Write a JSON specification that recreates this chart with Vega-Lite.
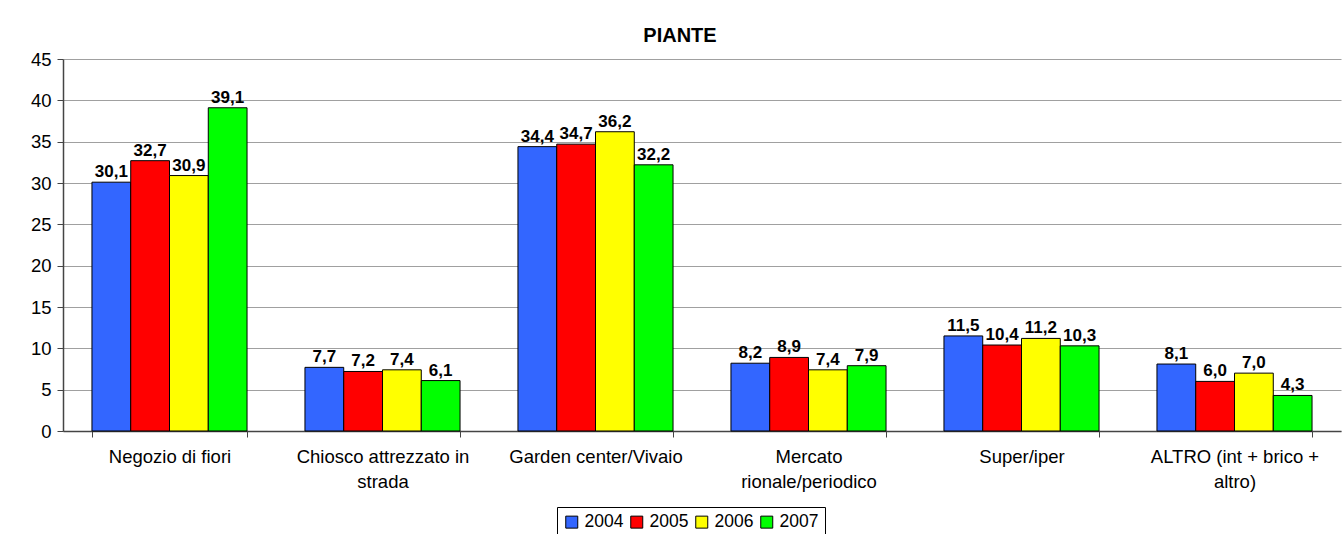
{
  "$schema": "https://vega.github.io/schema/vega-lite/v6.json",
  "autosize": {"type": "none"},
  "width": 1278,
  "height": 372,
  "padding": {"left": 63, "top": 59, "right": 1, "bottom": 103},
  "background": "white",
  "title": {
    "text": "PIANTE",
    "font": "Liberation Sans",
    "fontSize": 20,
    "fontWeight": "bold",
    "color": "black",
    "anchor": "middle",
    "dx": -22,
    "offset": 4
  },
  "data": {
    "values": [
      {"canale": "Negozio di fiori", "anno": "2004", "valore": 30.1},
      {"canale": "Negozio di fiori", "anno": "2005", "valore": 32.7},
      {"canale": "Negozio di fiori", "anno": "2006", "valore": 30.9},
      {"canale": "Negozio di fiori", "anno": "2007", "valore": 39.1},
      {"canale": "Chiosco attrezzato in strada", "anno": "2004", "valore": 7.7},
      {"canale": "Chiosco attrezzato in strada", "anno": "2005", "valore": 7.2},
      {"canale": "Chiosco attrezzato in strada", "anno": "2006", "valore": 7.4},
      {"canale": "Chiosco attrezzato in strada", "anno": "2007", "valore": 6.1},
      {"canale": "Garden center/Vivaio", "anno": "2004", "valore": 34.4},
      {"canale": "Garden center/Vivaio", "anno": "2005", "valore": 34.7},
      {"canale": "Garden center/Vivaio", "anno": "2006", "valore": 36.2},
      {"canale": "Garden center/Vivaio", "anno": "2007", "valore": 32.2},
      {"canale": "Mercato rionale/periodico", "anno": "2004", "valore": 8.2},
      {"canale": "Mercato rionale/periodico", "anno": "2005", "valore": 8.9},
      {"canale": "Mercato rionale/periodico", "anno": "2006", "valore": 7.4},
      {"canale": "Mercato rionale/periodico", "anno": "2007", "valore": 7.9},
      {"canale": "Super/iper", "anno": "2004", "valore": 11.5},
      {"canale": "Super/iper", "anno": "2005", "valore": 10.4},
      {"canale": "Super/iper", "anno": "2006", "valore": 11.2},
      {"canale": "Super/iper", "anno": "2007", "valore": 10.3},
      {"canale": "ALTRO (int + brico + altro)", "anno": "2004", "valore": 8.1},
      {"canale": "ALTRO (int + brico + altro)", "anno": "2005", "valore": 6.0},
      {"canale": "ALTRO (int + brico + altro)", "anno": "2006", "valore": 7.0},
      {"canale": "ALTRO (int + brico + altro)", "anno": "2007", "valore": 4.3}
    ]
  },
  "encoding": {
    "x": {
      "field": "canale",
      "type": "nominal",
      "sort": null,
      "scale": {"paddingInner": 0.272, "paddingOuter": 0.136},
      "axis": {
        "title": null,
        "labelAngle": 0,
        "labelFont": "Liberation Sans",
        "labelFontSize": 18.5,
        "labelColor": "black",
        "labelPadding": 10,
        "labelLineHeight": 25,
        "labelExpr": "datum.label == 'Chiosco attrezzato in strada' ? ['Chiosco attrezzato in', 'strada'] : datum.label == 'Mercato rionale/periodico' ? ['Mercato', 'rionale/periodico'] : datum.label == 'ALTRO (int + brico + altro)' ? ['ALTRO (int + brico +', 'altro)'] : datum.label",
        "tickBand": "extent",
        "tickSize": 6,
        "tickColor": "#444444",
        "domainColor": "#444444",
        "domainWidth": 1.5,
        "grid": false
      }
    },
    "xOffset": {"field": "anno", "type": "nominal"},
    "y": {
      "field": "valore",
      "type": "quantitative",
      "scale": {"domain": [0, 45], "nice": false},
      "axis": {
        "title": null,
        "values": [0, 5, 10, 15, 20, 25, 30, 35, 40, 45],
        "labelFont": "Liberation Sans",
        "labelFontSize": 18.5,
        "labelColor": "black",
        "labelPadding": 6,
        "tickSize": 6,
        "tickColor": "#444444",
        "domainColor": "#444444",
        "domainWidth": 1.5,
        "grid": true,
        "gridColor": "#a0a0a0",
        "gridWidth": 1
      }
    }
  },
  "layer": [
    {
      "mark": {"type": "bar", "stroke": "black", "strokeWidth": 1},
      "encoding": {
        "color": {
          "field": "anno",
          "type": "nominal",
          "scale": {
            "domain": ["2004", "2005", "2006", "2007"],
            "range": ["#3366FF", "#FF0000", "#FFFF00", "#00FF00"]
          },
          "legend": {
            "title": null,
            "orient": "none",
            "legendX": 494,
            "legendY": 448,
            "direction": "horizontal",
            "symbolType": "square",
            "symbolSize": 144,
            "symbolStrokeColor": "black",
            "symbolStrokeWidth": 1,
            "labelFont": "Liberation Sans",
            "labelFontSize": 17.5,
            "labelColor": "black",
            "labelOffset": 4,
            "columnPadding": 4,
            "symbolOffset": 0,
            "strokeColor": "black",
            "padding": 6
          }
        }
      }
    },
    {
      "mark": {
        "type": "text",
        "baseline": "alphabetic",
        "dy": -5,
        "font": "Liberation Sans",
        "fontSize": 17,
        "fontWeight": "bold",
        "color": "black"
      },
      "encoding": {
        "text": {"field": "valore", "type": "quantitative", "format": ".1f"}
      }
    }
  ],
  "config": {
    "locale": {
      "number": {
        "decimal": ",",
        "thousands": ".",
        "grouping": [3],
        "currency": ["€", ""]
      }
    },
    "view": {"stroke": null}
  }
}
